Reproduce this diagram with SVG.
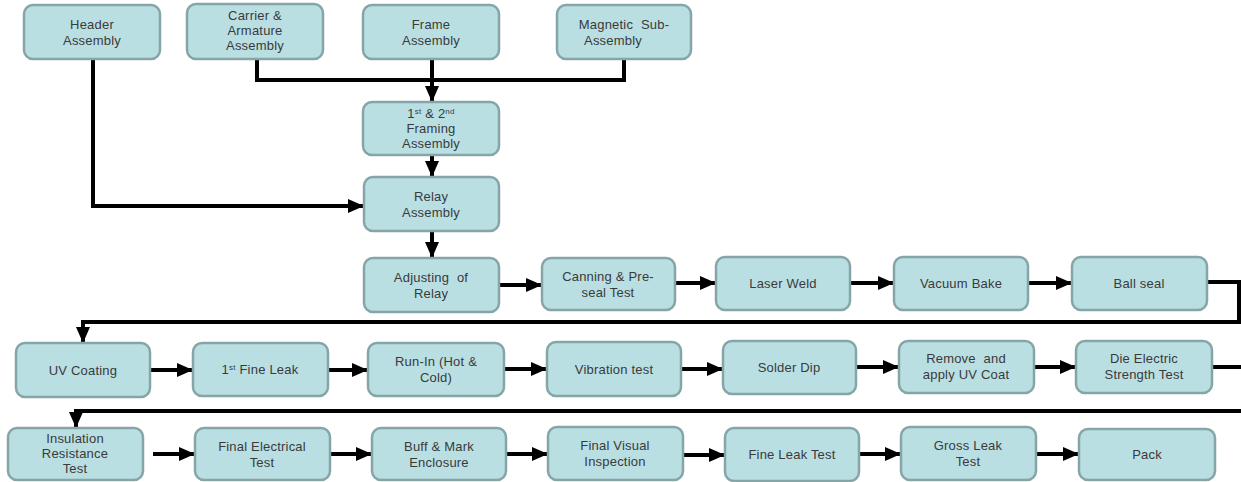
<svg xmlns="http://www.w3.org/2000/svg" width="1241" height="482" viewBox="0 0 1241 482">
<style>
.box{fill:#b9dfe3;stroke:#86a5a6;stroke-width:2.5}
.t{font-family:"Liberation Sans",Arial,sans-serif;font-size:13px;fill:#3a3a3a;text-anchor:middle;letter-spacing:0.2px}
.w{word-spacing:4px}
.c{fill:none;stroke:#000;stroke-width:4}
.a{marker-end:url(#ah)}
</style>
<defs>
<marker id="ah" markerUnits="userSpaceOnUse" markerWidth="16" markerHeight="14" refX="16" refY="7" orient="auto">
<path d="M0,0 L16,7 L0,14 z" fill="#000"/>
</marker>
</defs>
<rect width="1241" height="482" fill="#fff"/>
<g id="connectors">
<path class="c" d="M257,59 V80 H624 V59"/>
<path class="c a" d="M432,59 V102"/>
<path class="c a" d="M432,155 V177"/>
<path class="c a" d="M93,59 V206 H364"/>
<path class="c a" d="M432,231 V258"/>
<path class="c a" d="M499,285 H542"/>
<path class="c a" d="M675,283 H716"/>
<path class="c a" d="M850,283 H894"/>
<path class="c a" d="M1028,283 H1072"/>
<path class="c a" d="M1207,282 H1239 V322 H83 V343"/>
<path class="c a" d="M150,370 H193"/>
<path class="c a" d="M328,370 H368"/>
<path class="c a" d="M504,369 H547"/>
<path class="c a" d="M681,369 H723"/>
<path class="c a" d="M856,367 H899"/>
<path class="c a" d="M1034,367 H1076"/>
<path class="c a" d="M1212,367 H1247 V411 H76 V428"/>
<path class="c a" d="M153,454 H195"/>
<path class="c a" d="M330,454 H372"/>
<path class="c a" d="M506,454 H548"/>
<path class="c a" d="M683,455 H725"/>
<path class="c a" d="M859,454 H901"/>
<path class="c a" d="M1036,454 H1079"/>
</g>
<g id="header"><rect class="box" x="24" y="5" width="136" height="54" rx="9"/><text class="t" x="92" y="28.5">Header</text><text class="t" x="92" y="44.5">Assembly</text></g>
<g id="carrier"><rect class="box" x="187" y="4" width="136" height="55" rx="9"/><text class="t" x="255" y="20">Carrier &amp;</text><text class="t" x="255" y="35">Armature</text><text class="t" x="255" y="50">Assembly</text></g>
<g id="frame"><rect class="box" x="363" y="5" width="136" height="54" rx="9"/><text class="t" x="431" y="28.5">Frame</text><text class="t" x="431" y="44.5">Assembly</text></g>
<g id="magnetic"><rect class="box" x="557" y="5" width="134" height="54" rx="9"/><text class="t w" x="624" y="28.5">Magnetic Sub-</text><text class="t" x="613" y="44.5">Assembly</text></g>
<g id="framing"><rect class="box" x="363" y="102" width="136" height="53" rx="9"/><text class="t" x="431" y="118">1<tspan font-size="8" dy="-4">st</tspan><tspan dy="4"> &amp; 2</tspan><tspan font-size="8" dy="-4">nd</tspan></text><text class="t" x="431" y="133">Framing</text><text class="t" x="431" y="148">Assembly</text></g>
<g id="relay"><rect class="box" x="364" y="177" width="135" height="54" rx="9"/><text class="t" x="431" y="200.5">Relay</text><text class="t" x="431" y="216.5">Assembly</text></g>
<g id="adjusting"><rect class="box" x="364" y="258" width="135" height="54" rx="9"/><text class="t w" x="431" y="281.5">Adjusting of</text><text class="t" x="431" y="297.5">Relay</text></g>
<g id="canning"><rect class="box" x="542" y="258" width="133" height="52" rx="9"/><text class="t" x="608" y="281">Canning &amp; Pre-</text><text class="t" x="608" y="297">seal Test</text></g>
<g id="laser"><rect class="box" x="716" y="257" width="134" height="53" rx="9"/><text class="t" x="783" y="288">Laser Weld</text></g>
<g id="vacuum"><rect class="box" x="894" y="257" width="134" height="53" rx="9"/><text class="t" x="961" y="288">Vacuum Bake</text></g>
<g id="ballseal"><rect class="box" x="1072" y="257" width="135" height="53" rx="9"/><text class="t" x="1139" y="288">Ball seal</text></g>
<g id="uvcoating"><rect class="box" x="16" y="343" width="134" height="54" rx="9"/><text class="t" x="83" y="375">UV Coating</text></g>
<g id="fineleak1"><rect class="box" x="193" y="343" width="135" height="53" rx="9"/><text class="t" x="260" y="374">1<tspan font-size="8" dy="-4">st</tspan><tspan dy="4"> Fine Leak</tspan></text></g>
<g id="runin"><rect class="box" x="368" y="343" width="136" height="53" rx="9"/><text class="t" x="436" y="366">Run-In (Hot &amp;</text><text class="t" x="436" y="382">Cold)</text></g>
<g id="vibration"><rect class="box" x="547" y="342" width="134" height="54" rx="9"/><text class="t" x="614" y="373.5">Vibration test</text></g>
<g id="solder"><rect class="box" x="723" y="341" width="133" height="53" rx="9"/><text class="t" x="789" y="372">Solder Dip</text></g>
<g id="remove"><rect class="box" x="899" y="341" width="135" height="52" rx="9"/><text class="t w" x="966" y="363">Remove and</text><text class="t" x="966" y="379">apply UV Coat</text></g>
<g id="dieelectric"><rect class="box" x="1076" y="341" width="136" height="52" rx="9"/><text class="t" x="1144" y="363">Die Electric</text><text class="t" x="1144" y="379">Strength Test</text></g>
<g id="insulation"><rect class="box" x="8" y="428" width="135" height="52" rx="9"/><text class="t" x="75" y="443">Insulation</text><text class="t" x="75" y="458">Resistance</text><text class="t" x="75" y="473">Test</text></g>
<g id="finalelectrical"><rect class="box" x="195" y="428" width="135" height="52" rx="9"/><text class="t" x="262" y="451">Final Electrical</text><text class="t" x="262" y="467">Test</text></g>
<g id="buff"><rect class="box" x="372" y="428" width="134" height="52" rx="9"/><text class="t" x="439" y="451">Buff &amp; Mark</text><text class="t" x="439" y="467">Enclosure</text></g>
<g id="finalvisual"><rect class="box" x="548" y="427" width="135" height="53" rx="9"/><text class="t" x="615" y="450">Final Visual</text><text class="t" x="615" y="466">Inspection</text></g>
<g id="fineleaktest"><rect class="box" x="725" y="428" width="134" height="53" rx="9"/><text class="t" x="792" y="459">Fine Leak Test</text></g>
<g id="grossleak"><rect class="box" x="901" y="427" width="135" height="53" rx="9"/><text class="t" x="968" y="450">Gross Leak</text><text class="t" x="968" y="466">Test</text></g>
<g id="pack"><rect class="box" x="1079" y="429" width="136" height="51" rx="9"/><text class="t" x="1147" y="459">Pack</text></g>
</svg>
